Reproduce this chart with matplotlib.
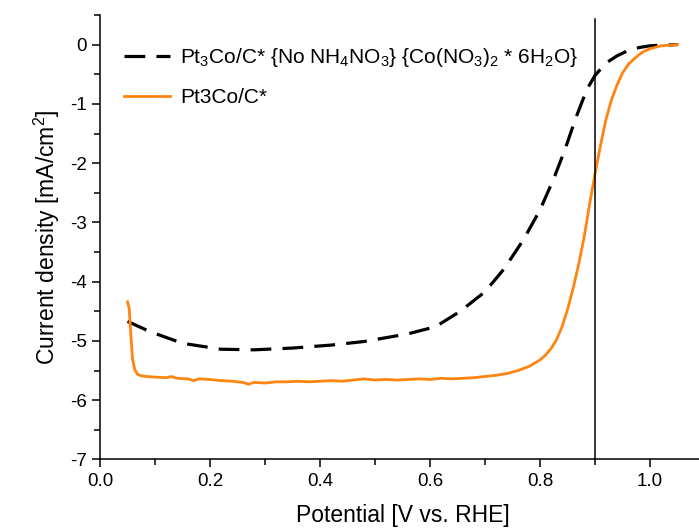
import numpy as np
from matplotlib import pyplot as plt
from matplotlib.ticker import MultipleLocator

plt.rcParams['font.family'] = ['Liberation Sans', 'DejaVu Sans']
plt.rcParams['mathtext.fontset'] = 'custom'
plt.rcParams['mathtext.rm'] = 'Liberation Sans'
plt.rcParams['mathtext.it'] = 'Liberation Sans:italic'
plt.rcParams['mathtext.bf'] = 'Liberation Sans:bold'

#dashed curve -- Pt3Co/C* {No NH4NO3} {Co(NO3)2 * 6H2O}
pot_dash = [0.05, 0.09, 0.15, 0.22, 0.28, 0.35, 0.42, 0.48, 0.56, 0.61, 0.655,
            0.70, 0.735, 0.77, 0.80, 0.825, 0.845, 0.865, 0.885, 0.90, 0.92, 0.94,
            0.96, 0.98, 1.00, 1.02, 1.05]
cur_dash = [-4.67, -4.84, -5.04, -5.14, -5.15, -5.12, -5.07, -5.01, -4.88, -4.76, -4.50,
            -4.17, -3.78, -3.29, -2.79, -2.26, -1.78, -1.24, -0.76, -0.52, -0.31, -0.19,
            -0.10, -0.05, -0.02, -0.01, 0.0]

#orange curve -- Pt3Co/C*
pot_or = [0.050, 0.053, 0.056, 0.059, 0.063, 0.068, 0.075, 0.085, 0.10, 0.12, 0.13,
          0.14, 0.16, 0.17, 0.18, 0.20, 0.22, 0.24, 0.26, 0.27, 0.28, 0.30, 0.32,
          0.34, 0.36, 0.38, 0.40, 0.42, 0.44, 0.46, 0.48, 0.50, 0.52, 0.54, 0.56,
          0.58, 0.60, 0.62, 0.64, 0.66, 0.68, 0.70, 0.72, 0.74, 0.76, 0.78, 0.80,
          0.81, 0.82, 0.83, 0.84, 0.85, 0.86, 0.87, 0.88, 0.89, 0.90, 0.91, 0.92,
          0.93, 0.94, 0.95, 0.96, 0.97, 0.98, 0.99, 1.00, 1.02, 1.05]
cur_or = [-4.34, -4.45, -4.90, -5.30, -5.48, -5.56, -5.59, -5.60, -5.61, -5.62, -5.60,
          -5.63, -5.64, -5.67, -5.64, -5.65, -5.67, -5.68, -5.70, -5.73, -5.70, -5.71, -5.69,
          -5.69, -5.68, -5.69, -5.68, -5.67, -5.68, -5.66, -5.64, -5.66, -5.65, -5.66, -5.65,
          -5.64, -5.65, -5.63, -5.64, -5.63, -5.62, -5.60, -5.58, -5.55, -5.50, -5.43, -5.32,
          -5.24, -5.13, -4.98, -4.76, -4.47, -4.12, -3.72, -3.26, -2.70, -2.18, -1.70, -1.26,
          -0.93, -0.68, -0.48, -0.34, -0.25, -0.17, -0.11, -0.07, -0.02, 0.0]

lbl_dash = r'Pt$_3$Co/C* {No NH$_4$NO$_3$} {Co(NO$_3$)$_2$ * 6H$_2$O}'
lbl_or = 'Pt3Co/C*'

fig = plt.figure(figsize=(6.99, 5.31), dpi=100)
ax = fig.add_axes([0.1431, 0.1347, 0.8655, 0.8371])

ax.plot(pot_dash, cur_dash, color='black', lw=2.3, dashes=(6.5, 3.5), label=lbl_dash)
ax.plot(pot_or, cur_or, color='#ff8410', lw=2.0, label=lbl_or)
ax.axvline(0.9, ymax=0.99, color='black', lw=1.1)

ax.set_xlim(0, 1.1)
ax.set_ylim(-7, 0.5)
ax.xaxis.set_major_locator(MultipleLocator(0.2))
ax.xaxis.set_minor_locator(MultipleLocator(0.1))
ax.yaxis.set_minor_locator(MultipleLocator(0.5))
ax.set_yticks([0, -1, -2, -3, -4, -5, -6, -7])
ax.set_yticklabels(['0', '-1', '-2', '-3', '-4', '-5', '-6', '-7'])
ax.tick_params(which='major', direction='out', length=6, width=1.1, labelsize=13.5)
ax.tick_params(which='minor', direction='out', length=4, width=1.1)
for s in ['top', 'right']:
    ax.spines[s].set_visible(False)
for s in ['left', 'bottom']:
    ax.spines[s].set_linewidth(1.1)

ax.set_xlabel('Potential [V vs. RHE]', fontsize=16.5, labelpad=10)
ax.set_ylabel('Current density [mA/cm$^2$]', fontsize=16.5, labelpad=6)

ax.legend(loc='upper left', bbox_to_anchor=(0.04, 0.93), frameon=False, fontsize=15,
          handlelength=2.2, handletextpad=0.5, labelspacing=0.9, borderpad=0,
          borderaxespad=0)

fig.savefig('out.png', dpi=100)
